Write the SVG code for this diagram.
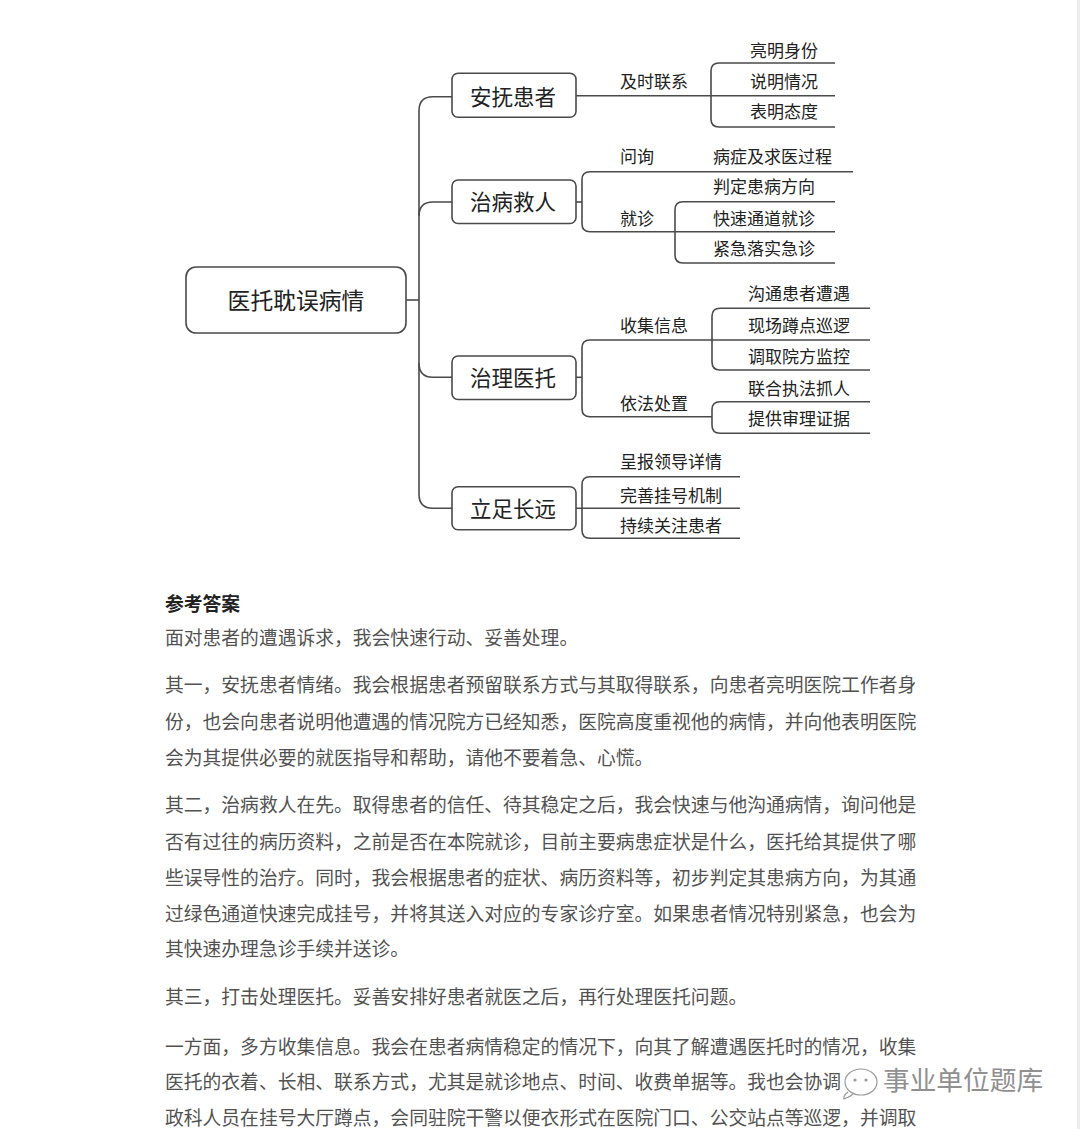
<svg xmlns="http://www.w3.org/2000/svg" width="1080" height="1129" viewBox="0 0 1080 1129">
<style>
.box{fill:#fff;stroke:#4a4a4a;stroke-width:1.6}
.ln{fill:none;stroke:#4a4a4a;stroke-width:1.6}
.t{font-family:"Noto Sans CJK SC","Noto Sans",sans-serif;fill:#222}
.bl{font-size:21.5px;text-anchor:middle}
.rl{font-size:22.8px;text-anchor:middle}
.sl{font-size:17px}
.p{font-family:"Noto Sans CJK SC","Noto Sans",sans-serif;font-size:18.8px;fill:#525252}
.h{font-weight:bold;fill:#222}
.wm{font-family:"Noto Sans CJK SC","Noto Sans",sans-serif;font-size:26.7px;fill:#909090;stroke:#fff;stroke-width:2;paint-order:stroke}
</style>
<rect x="0" y="0" width="1080" height="1129" fill="#fff"/>
<rect x="1077" y="0" width="3" height="1129" fill="#ececec"/>

<g id="connectors">
  <path class="ln" d="M406 300 H419"/>
  <path class="ln" d="M452 96.7 H433 Q419 96.7 419 110.7 V494.3 Q419 508.3 433 508.3 H452"/>
  <path class="ln" d="M419 216 Q419 202 433 202 H452"/>
  <path class="ln" d="M419 363.3 Q419 377.3 433 377.3 H452"/>
  <path class="ln" d="M576 95.7 H835"/>
  <path class="ln" d="M835 63 H719 Q711 63 711 71 V119 Q711 127 719 127 H835"/>
  <path class="ln" d="M576 202 H582"/>
  <path class="ln" d="M853 171.7 H590 Q582 171.7 582 179.7 V223.7 Q582 231.7 590 231.7 H835"/>
  <path class="ln" d="M835 201.7 H683 Q675 201.7 675 209.7 V255 Q675 263 683 263 H835"/>
  <path class="ln" d="M576 377.3 H582"/>
  <path class="ln" d="M870 340 H590 Q582 340 582 348 V408.7 Q582 416.7 590 416.7 H712"/>
  <path class="ln" d="M870 308.3 H720 Q712 308.3 712 316.3 V362 Q712 370 720 370 H870"/>
  <path class="ln" d="M870 401.7 H720 Q712 401.7 712 409.7 V425.3 Q712 433.3 720 433.3 H870"/>
  <path class="ln" d="M576 508.3 H740"/>
  <path class="ln" d="M740 476.7 H590 Q582 476.7 582 484.7 V530.3 Q582 538.3 590 538.3 H740"/>
</g>

<g id="root">
  <rect class="box" x="186" y="267" width="220" height="66" rx="10"/>
  <text class="t rl" x="296" y="308.7">医托耽误病情</text>
</g>
<g id="n1">
  <rect class="box" x="452" y="73.3" width="124" height="44" rx="6"/>
  <text class="t bl" x="513" y="104.5">安抚患者</text>
</g>
<g id="n2">
  <rect class="box" x="452" y="180" width="124" height="43.5" rx="6"/>
  <text class="t bl" x="513" y="210.3">治病救人</text>
</g>
<g id="n3">
  <rect class="box" x="452" y="356" width="124" height="43.5" rx="6"/>
  <text class="t bl" x="513" y="386">治理医托</text>
</g>
<g id="n4">
  <rect class="box" x="452" y="486.7" width="124" height="43" rx="6"/>
  <text class="t bl" x="513" y="516.5">立足长远</text>
</g>

<g id="n1-1"><text class="t sl" x="620" y="88.2">及时联系</text></g>
<g id="n1-1-1"><text class="t sl" x="750" y="56.5">亮明身份</text></g>
<g id="n1-1-2"><text class="t sl" x="750" y="88.2">说明情况</text></g>
<g id="n1-1-3"><text class="t sl" x="750" y="118.2">表明态度</text></g>

<g id="n2-1"><text class="t sl" x="620" y="163.2">问询</text></g>
<g id="n2-1-1"><text class="t sl" x="713" y="163.2">病症及求医过程</text></g>
<g id="n2-2"><text class="t sl" x="620" y="224.5">就诊</text></g>
<g id="n2-2-1"><text class="t sl" x="713" y="193.2">判定患病方向</text></g>
<g id="n2-2-2"><text class="t sl" x="713" y="224.5">快速通道就诊</text></g>
<g id="n2-2-3"><text class="t sl" x="713" y="254.5">紧急落实急诊</text></g>

<g id="n3-1"><text class="t sl" x="620" y="331.5">收集信息</text></g>
<g id="n3-1-1"><text class="t sl" x="748" y="299.8">沟通患者遭遇</text></g>
<g id="n3-1-2"><text class="t sl" x="748" y="331.5">现场蹲点巡逻</text></g>
<g id="n3-1-3"><text class="t sl" x="748" y="362.5">调取院方监控</text></g>
<g id="n3-2"><text class="t sl" x="620" y="409.8">依法处置</text></g>
<g id="n3-2-1"><text class="t sl" x="748" y="394.5">联合执法抓人</text></g>
<g id="n3-2-2"><text class="t sl" x="748" y="424.5">提供审理证据</text></g>

<g id="n4-1"><text class="t sl" x="620" y="468.2">呈报领导详情</text></g>
<g id="n4-2"><text class="t sl" x="620" y="501.5">完善挂号机制</text></g>
<g id="n4-3"><text class="t sl" x="620" y="531.5">持续关注患者</text></g>

<g id="answer">
  <text class="p h" x="165" y="611">参考答案</text>
  <text class="p" x="165" y="645">面对患者的遭遇诉求，我会快速行动、妥善处理。</text>
  <text class="p" x="165" y="692">其一，安抚患者情绪。我会根据患者预留联系方式与其取得联系，向患者亮明医院工作者身</text>
  <text class="p" x="165" y="729">份，也会向患者说明他遭遇的情况院方已经知悉，医院高度重视他的病情，并向他表明医院</text>
  <text class="p" x="165" y="765">会为其提供必要的就医指导和帮助，请他不要着急、心慌。</text>
  <text class="p" x="165" y="812">其二，治病救人在先。取得患者的信任、待其稳定之后，我会快速与他沟通病情，询问他是</text>
  <text class="p" x="165" y="849">否有过往的病历资料，之前是否在本院就诊，目前主要病患症状是什么，医托给其提供了哪</text>
  <text class="p" x="165" y="885">些误导性的治疗。同时，我会根据患者的症状、病历资料等，初步判定其患病方向，为其通</text>
  <text class="p" x="165" y="921">过绿色通道快速完成挂号，并将其送入对应的专家诊疗室。如果患者情况特别紧急，也会为</text>
  <text class="p" x="165" y="956">其快速办理急诊手续并送诊。</text>
  <text class="p" x="165" y="1004">其三，打击处理医托。妥善安排好患者就医之后，再行处理医托问题。</text>
  <text class="p" x="165" y="1054">一方面，多方收集信息。我会在患者病情稳定的情况下，向其了解遭遇医托时的情况，收集</text>
  <text class="p" x="165" y="1089">医托的衣着、长相、联系方式，尤其是就诊地点、时间、收费单据等。我也会协调</text>
  <text class="p" x="165" y="1125">政科人员在挂号大厅蹲点，会同驻院干警以便衣形式在医院门口、公交站点等巡逻，并调取</text>
</g>

<g id="watermark">
  <path d="M848 1092 Q843 1096 844 1099 Q850 1097 853 1094" fill="#fff" stroke="#999" stroke-width="1.2"/>
  <ellipse cx="861" cy="1082" rx="16" ry="13" fill="#fff" stroke="#999" stroke-width="1.2"/>
  <circle cx="855" cy="1080" r="1.6" fill="#999"/>
  <circle cx="866" cy="1080" r="1.6" fill="#999"/>
  <text class="wm" x="883" y="1090">事业单位题库</text>
</g>
</svg>
